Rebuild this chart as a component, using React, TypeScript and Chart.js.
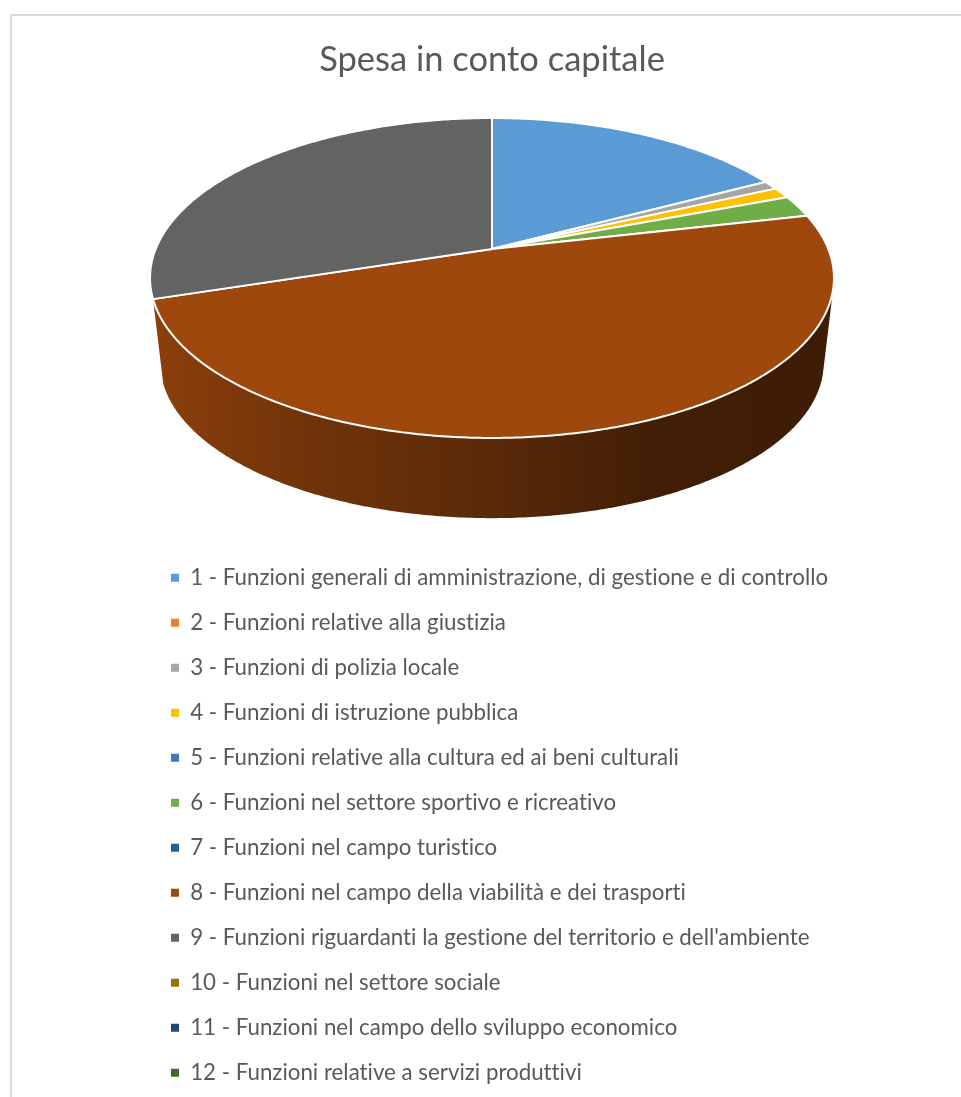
import React, { useEffect, useRef } from "react";
import { Chart, registerables } from "chart.js";

Chart.register(...registerables);

const titleText = "Spesa in conto capitale";
const categories = [
  "1 - Funzioni generali di amministrazione, di gestione e di controllo",
  "2 - Funzioni relative alla giustizia",
  "3 - Funzioni di polizia locale",
  "4 - Funzioni di istruzione pubblica",
  "5 - Funzioni relative alla cultura ed ai beni culturali",
  "6 - Funzioni nel settore sportivo e ricreativo",
  "7 - Funzioni nel campo turistico",
  "8 - Funzioni nel campo della viabilità e dei trasporti",
  "9 - Funzioni riguardanti la gestione del territorio e dell'ambiente",
  "10 - Funzioni nel settore sociale",
  "11 - Funzioni nel campo dello sviluppo economico",
  "12 - Funzioni relative a servizi produttivi",
];
const shares = [17.2, 0, 0.9, 1.1, 0, 2.2, 0, 48.65, 29.95, 0, 0, 0];
const sliceColors = [
  "#5B9BD5", "#ED7D31", "#A5A5A5", "#FFC000", "#4472C4", "#70AD47",
  "#255E91", "#9E480E", "#636363", "#997300", "#264478", "#43682B",
];

const FONT = "Lato, Carlito, sans-serif";
const TEXT = "#595959";

// Perspective disc: the circle centre sits above the centre of its projected ellipse.
const CX = 492;
const CY = 249;
const FORE = 0.18125;
const SCALE_X = 336.3;
const SCALE_Y = 154.7;
const RIM_MID_Y = 278;
const BASE_MID_Y = 363;
const BASE_SCALE = 0.97;

const LEGEND_GAP = 22.7;

// Brightness of the rim, left to right, as a share of the slice colour.
const rimShade = [
  [155, 0.88],
  [300, 0.72],
  [492, 0.57],
  [650, 0.42],
  [830, 0.39],
];

function topPoint(angle: number) {
  const t = angle + Math.PI / 2;
  const u = Math.sin(t);
  const v = Math.cos(t);
  const w = 1 + FORE * v;
  return { x: CX + (SCALE_X * u) / w, y: CY - (SCALE_Y * v) / w };
}

function basePoint(angle: number) {
  const p = topPoint(angle);
  return {
    x: CX + BASE_SCALE * (p.x - CX),
    y: BASE_MID_Y + BASE_SCALE * (p.y - RIM_MID_Y),
  };
}

function arcAngles(start: number, end: number) {
  const steps = Math.max(2, Math.ceil((end - start) / 0.01));
  const out: number[] = [];
  for (let i = 0; i <= steps; i++) out.push(start + ((end - start) * i) / steps);
  return out;
}

function shaded(ctx: CanvasRenderingContext2D, hex: string) {
  const r = parseInt(hex.slice(1, 3), 16);
  const g = parseInt(hex.slice(3, 5), 16);
  const b = parseInt(hex.slice(5, 7), 16);
  const from = rimShade[0][0];
  const to = rimShade[rimShade.length - 1][0];
  const grad = ctx.createLinearGradient(from, 0, to, 0);
  rimShade.forEach(([x, k]) => {
    grad.addColorStop((x - from) / (to - from), `rgb(${r * k},${g * k},${b * k})`);
  });
  return grad;
}

// Adds the rim of one slice as consistently wound quads, so one fill covers it without seams.
function traceRim(ctx: CanvasRenderingContext2D, angles: number[]) {
  for (let k = 0; k < angles.length - 1; k++) {
    const q = [
      topPoint(angles[k]),
      topPoint(angles[k + 1]),
      basePoint(angles[k + 1]),
      basePoint(angles[k]),
    ];
    let area = 0;
    q.forEach((p, n) => {
      const o = q[(n + 1) % 4];
      area += p.x * o.y - o.x * p.y;
    });
    const path = area < 0 ? q.slice().reverse() : q;
    ctx.moveTo(path[0].x, path[0].y);
    for (let n = 1; n < 4; n++) ctx.lineTo(path[n].x, path[n].y);
    ctx.closePath();
  }
}

const framePlugin = {
  id: "frame",
  beforeDraw(chart: any) {
    const { ctx, width, height } = chart;
    ctx.textRendering = "optimizeSpeed";
    ctx.save();
    ctx.fillStyle = "#ffffff";
    ctx.fillRect(0, 0, width, height);
    ctx.fillStyle = "#d9d9d9";
    ctx.fillRect(10, 14, width - 10, 2);
    ctx.fillRect(10, 14, 2, height - 14);
    ctx.restore();
  },
};

// Places the legend column under the disc.
const legendPlacement = {
  id: "legendPlacement",
  afterLayout(chart: any) {
    const legend = chart.legend;
    legend.left = 171 - LEGEND_GAP;
    legend.right = 950;
    legend.top = 544;
    legend.bottom = chart.height + 100;
  },
};

// Draws the arc elements as a tilted disc with a shaded rim.
const tiltedDisc = {
  id: "tiltedDisc",
  beforeDatasetsDraw(chart: any) {
    const { ctx } = chart;
    const arcs = chart.getDatasetMeta(0).data;
    const colors = chart.data.datasets[0].backgroundColor;
    ctx.save();
    ctx.lineJoin = "round";
    arcs.forEach((arc: any, i: number) => {
      if (arc.endAngle - arc.startAngle <= 0) return;
      // Only slices facing the viewer show a rim.
      const mid = (arc.startAngle + arc.endAngle) / 2;
      if (Math.sin(mid) <= 0) return;
      ctx.beginPath();
      traceRim(ctx, arcAngles(arc.startAngle, arc.endAngle));
      ctx.fillStyle = shaded(ctx, colors[i]);
      ctx.fill("nonzero");
    });
    arcs.forEach((arc: any, i: number) => {
      if (arc.endAngle - arc.startAngle <= 0) return;
      const angles = arcAngles(arc.startAngle, arc.endAngle);
      ctx.beginPath();
      ctx.moveTo(CX, CY);
      angles.forEach((a) => {
        const p = topPoint(a);
        ctx.lineTo(p.x, p.y);
      });
      ctx.closePath();
      ctx.fillStyle = colors[i];
      ctx.fill();
      ctx.strokeStyle = "#ffffff";
      ctx.lineWidth = 2;
      ctx.stroke();
    });
    ctx.restore();
    return false;
  },
};

export default function App() {
  const ref = useRef<HTMLCanvasElement | null>(null);

  useEffect(() => {
    document.body.style.margin = "0";
    const chart = new Chart(ref.current as HTMLCanvasElement, {
      type: "pie",
      data: {
        labels: categories,
        datasets: [{ data: shares, backgroundColor: sliceColors, borderWidth: 0 }],
      },
      options: {
        responsive: false,
        animation: false,
        layout: { padding: { left: 23, top: 0, right: 0, bottom: 0 } },
        plugins: {
          title: {
            display: true,
            text: titleText,
            color: TEXT,
            font: { family: FONT, size: 34.5, weight: "normal" },
            padding: { top: 39.5, bottom: 10 },
          },
          legend: {
            display: true,
            position: "left",
            align: "start",
            labels: {
              color: TEXT,
              font: { family: FONT, size: 22.3 },
              boxWidth: 8,
              boxHeight: 8,
              padding: LEGEND_GAP,
            },
          },
          tooltip: { enabled: false },
        },
      },
      plugins: [framePlugin, legendPlacement, tiltedDisc],
    } as any);
    return () => chart.destroy();
  }, []);

  return (
    <div style={{ position: "absolute", left: 0, top: 0, width: 961, height: 1097 }}>
      <canvas ref={ref} width={961} height={1097} style={{ display: "block" }} />
    </div>
  );
}
